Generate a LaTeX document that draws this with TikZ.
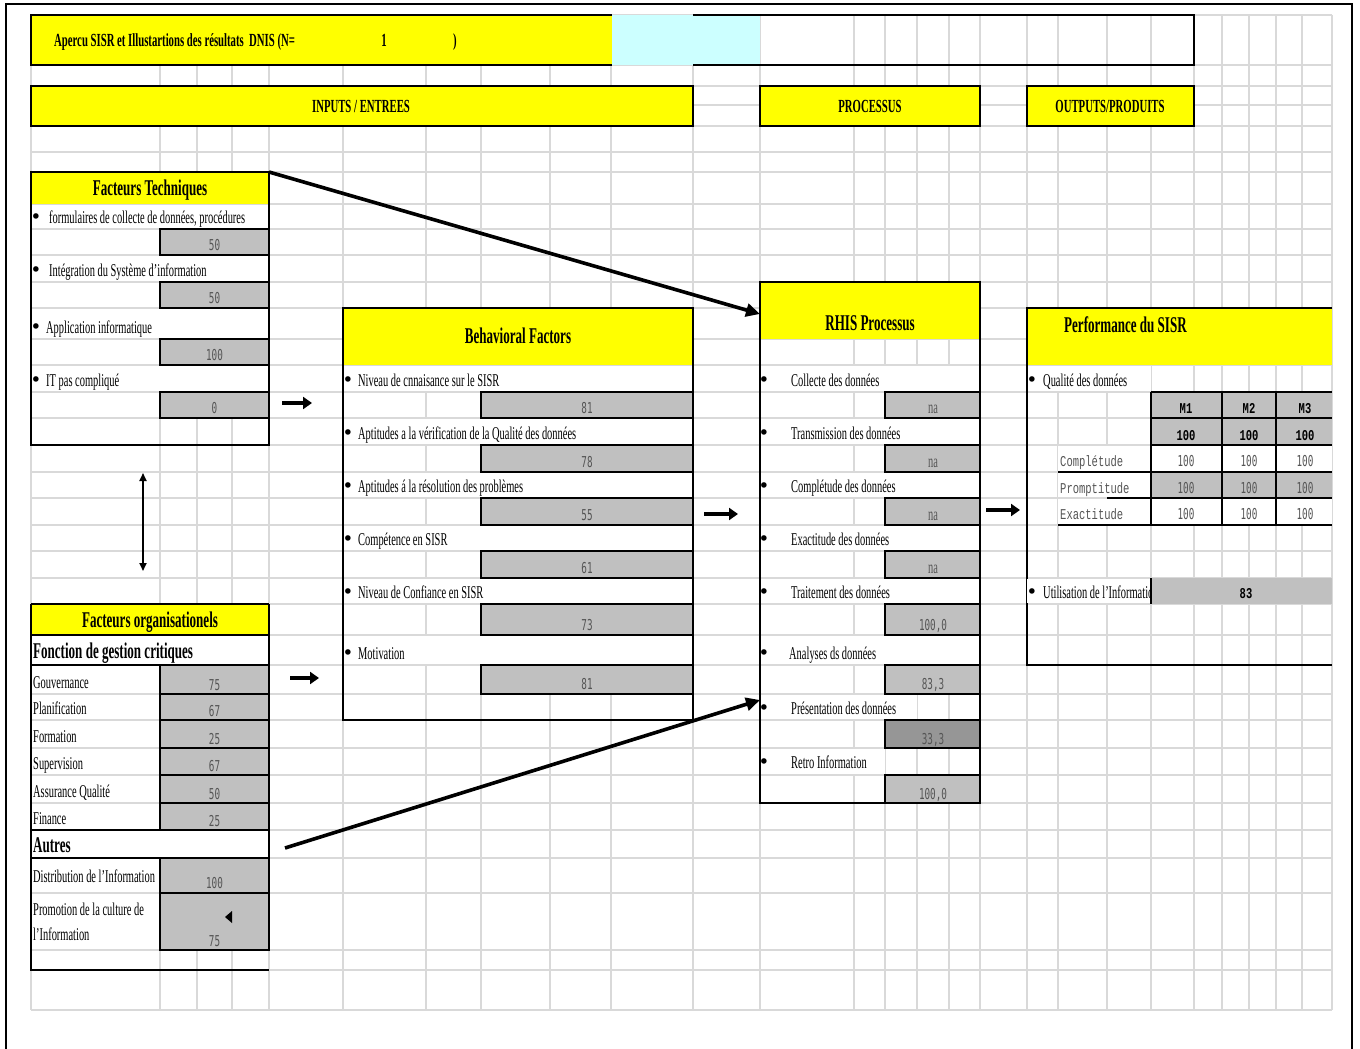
\documentclass[tikz,border=0pt]{standalone}
\usepackage{fontspec}
\setmainfont{Liberation Serif}[FakeStretch=0.58]
\newfontfamily\dmono{DejaVu Sans Mono}[FakeStretch=0.62]
\newfontfamily\lmono{Liberation Mono}[FakeStretch=0.7]
\newfontfamily\bulf{DejaVu Sans}
\usetikzlibrary{arrows.meta}
\definecolor{xyellow}{HTML}{FFFF00}
\definecolor{xcyan}{HTML}{CCFFFF}
\definecolor{xgray}{HTML}{C0C0C0}
\definecolor{xdark}{HTML}{969696}
\definecolor{gridc}{HTML}{D9D9D9}
\definecolor{numc}{HTML}{555555}
\tikzset{
  gridline/.style={draw=gridc, line width=1.3pt},
  bd/.style={draw=black, line width=2.4pt},
  thinbd/.style={draw=black, line width=1.6pt},
  cellbox/.style={draw=black, line width=2.2pt, fill=xgray},
  darkbox/.style={draw=black, line width=2.2pt, fill=xdark},
  txt/.style={font=\fontsize{18}{20}\selectfont, anchor=base west, inner sep=0pt},
  hd/.style={font=\bfseries\fontsize{22.5}{24}\selectfont, anchor=base, inner sep=0pt},
  bar/.style={font=\bfseries\fontsize{18.5}{20}\selectfont, anchor=base, inner sep=0pt},
  val/.style={font=\dmono\fontsize{15}{16}\selectfont, text=numc, anchor=base, inner sep=0pt},
  naval/.style={font=\fontsize{18}{20}\selectfont, text=numc, anchor=base, inner sep=0pt},
  cour/.style={font=\lmono\fontsize{15}{16}\selectfont, text=numc, anchor=base west, inner sep=0pt},
  courb/.style={font=\lmono\bfseries\fontsize{15}{16}\selectfont, anchor=base, inner sep=0pt},
  bul/.style={font=\bulf\fontsize{19}{20}\selectfont, anchor=base, inner sep=0pt},
  bigarrow/.style={line width=3.6pt, -{Triangle[length=14pt,width=13pt]}},
  smallarrow/.style={line width=3.4pt, -{Triangle[length=9pt,width=12pt]}},
  dblarrow/.style={line width=1.8pt, {Triangle[length=8pt,width=7pt]}-{Triangle[length=8pt,width=7pt]}},
}
\begin{document}
\begin{tikzpicture}[x=1pt,y=-1pt]
\useasboundingbox (0,0) rectangle (1360,1049);
\fill[white] (0,0) rectangle (1360,1049);
% ---------- spreadsheet grid ----------
\foreach \yy in {15,65,86,105,126,152,172,204,229,255,282,308,339,365,392,418,445,472,498,525,551,578,604,635,665,694,720,748,775,803,830,858,893,950,970,1010}
  \draw[gridline] (31,\yy) -- (1332,\yy);
\foreach \xx in {31,160,197,232,269,343,426,481,550,611,693,760,854,885,917,949,980,1027,1058,1107,1151,1194,1222,1249,1276,1302,1332}
  \draw[gridline] (\xx,15) -- (\xx,1010);
% outer frame
\draw[line width=1.2pt] (6,1060) -- (6,4) -- (1352,4) -- (1352,1060);

% ---------- title row ----------
\fill[xyellow] (31,15) rectangle (612,65);
\fill[xcyan] (612,15) rectangle (760,65);
\draw[bd] (612,15) -- (31,15) -- (31,65) -- (612,65);
\draw[bd] (693,15) -- (1194,15) -- (1194,65) -- (693,65);
\node[bar, anchor=base west] (title) at (54,47) {Apercu SISR et Illustartions des résultats\ \ DNIS (N=};
\node[bar] (titlen) at (384,47) {1};
\node[bar] (titlep) at (455,47) {)};

% ---------- section bars ----------
\draw[bd, fill=xyellow] (31,86) rectangle (693,126);
\node[bar] (inputs) at (361,112) {INPUTS / ENTREES};
\draw[bd, fill=xyellow] (760,86) rectangle (980,126);
\node[bar] (processus) at (870,112) {PROCESSUS};
\draw[bd, fill=xyellow] (1027,86) rectangle (1194,126);
\node[bar] (outputs) at (1110,112) {OUTPUTS/PRODUITS};

% ---------- Facteurs Techniques ----------
\fill[xyellow] (31,172) rectangle (269,204);
\foreach \a/\b in {204/229,255/282,308/339,365/392}
  \fill[white] (31,\a+1) rectangle (269,\b-1);
\foreach \a/\b in {229/255,282/308,339/365,392/418}
  \draw[cellbox] (160,\a) rectangle (269,\b);
\draw[bd] (31,172) rectangle (269,445);
\node[hd] (fthead) at (150,195) {Facteurs Techniques};
\node[bul] (ftb1) at (36,223) {•};
\node[txt] (ft1) at (49,223) {formulaires de collecte de données, procédures};
\node[val] (ftv1) at (214.5,250) {50};
\node[bul] (ftb2) at (36,276) {•};
\node[txt] (ft2) at (49,276) {Intégration du Système d'information};
\node[val] (ftv2) at (214.5,303) {50};
\node[bul] (ftb3) at (36,333) {•};
\node[txt] (ft3) at (46,333) {Application informatique};
\node[val] (ftv3) at (214.5,360) {100};
\node[bul] (ftb4) at (36,386) {•};
\node[txt] (ft4) at (46,386) {IT pas compliqué};
\node[val] (ftv4) at (214.5,413) {0};

% ---------- Facteurs organisationels ----------
\fill[xyellow] (31,604) rectangle (269,635);
\fill[white] (31,636) rectangle (269,664);
\fill[white] (31,831) rectangle (269,857);
\foreach \a/\b in {665/694,694/720,720/748,748/775,775/803,803/830,858/893,893/950}
  \draw[cellbox] (160,\a) rectangle (269,\b);
\draw[thinbd] (31,635) rectangle (269,665);
\draw[thinbd] (31,830) rectangle (269,858);
\draw[bd] (31,604) -- (269,604);
\draw[bd] (269,604) -- (269,950);
\draw[bd] (31,604) -- (31,970) -- (269,970);
\node[hd] (fohead) at (150,627) {Facteurs organisationels};
\node[txt, font=\bfseries\fontsize{22.5}{24}\selectfont] (fonction) at (33,658) {Fonction de gestion critiques};
\node[txt] (fo1) at (33,688) {Gouvernance};
\node[val] (fov1) at (214.5,690) {75};
\node[txt] (fo2) at (33,714) {Planification};
\node[val] (fov2) at (214.5,716) {67};
\node[txt] (fo3) at (33,742) {Formation};
\node[val] (fov3) at (214.5,744) {25};
\node[txt] (fo4) at (33,769) {Supervision};
\node[val] (fov4) at (214.5,771) {67};
\node[txt] (fo5) at (33,797) {Assurance Qualité};
\node[val] (fov5) at (214.5,799) {50};
\node[txt] (fo6) at (33,824) {Finance};
\node[val] (fov6) at (214.5,826) {25};
\node[txt, font=\bfseries\fontsize{22.5}{24}\selectfont] (autres) at (33,852) {Autres};
\node[txt] (fo7) at (33,882) {Distribution de l'Information};
\node[val] (fov7) at (214.5,888) {100};
\node[txt] (fo8a) at (33,915) {Promotion de la culture de};
\node[txt] (fo8b) at (33,940) {l'Information};
\node[val] (fov8) at (214.5,946) {75};
\fill (225,917) -- (232,911) -- (232,923) -- cycle;

% ---------- Behavioral Factors ----------
\fill[xyellow] (343,308) rectangle (693,365);
\foreach \a/\b in {365/392,418/445,472/498,525/551,578/604,635/665}
  \fill[white] (343,\a+1) rectangle (693,\b-1);
\foreach \a/\b in {392/418,445/472,498/525,551/578,604/635,665/694}
  \draw[cellbox] (481,\a) rectangle (693,\b);
\draw[bd] (343,308) rectangle (693,720);
\node[hd] (bfhead) at (518,343) {Behavioral Factors};
\node[bul] (bfb1) at (348,386) {•};
\node[txt] (bf1) at (358,386) {Niveau de cnnaisance sur le SISR};
\node[val] (bfv1) at (587,413) {81};
\node[bul] (bfb2) at (348,439) {•};
\node[txt] (bf2) at (358,439) {Aptitudes a la vérification de la Qualité des données};
\node[val] (bfv2) at (587,467) {78};
\node[bul] (bfb3) at (348,492) {•};
\node[txt] (bf3) at (358,492) {Aptitudes á la résolution des problèmes};
\node[val] (bfv3) at (587,520) {55};
\node[bul] (bfb4) at (348,545) {•};
\node[txt] (bf4) at (358,545) {Compétence en SISR};
\node[val] (bfv4) at (587,573) {61};
\node[bul] (bfb5) at (348,598) {•};
\node[txt] (bf5) at (358,598) {Niveau de Confiance en SISR};
\node[val] (bfv5) at (587,630) {73};
\node[bul] (bfb6) at (348,659) {•};
\node[txt] (bf6) at (358,659) {Motivation};
\node[val] (bfv6) at (587,689) {81};

% ---------- RHIS Processus ----------
\fill[xyellow] (760,282) rectangle (980,339);
\foreach \a/\b in {365/392,418/445,472/498,525/551,578/604,635/665}
  \fill[white] (760,\a+1) rectangle (980,\b-1);
\fill[white] (760,695) rectangle (917,719);
\fill[white] (760,749) rectangle (885,774);
\foreach \a/\b in {392/418,445/472,498/525,551/578,604/635,665/694,775/803}
  \draw[cellbox] (885,\a) rectangle (980,\b);
\draw[darkbox] (885,720) rectangle (980,748);
\draw[bd] (760,282) rectangle (980,803);
\node[hd] (rhhead) at (870,330) {RHIS Processus};
\node[bul] (rhb1) at (764,386) {•};
\node[txt] (rh1) at (791,386) {Collecte des données};
\node[naval] (rhv1) at (933,413) {na};
\node[bul] (rhb2) at (764,439) {•};
\node[txt] (rh2) at (791,439) {Transmission des données};
\node[naval] (rhv2) at (933,467) {na};
\node[bul] (rhb3) at (764,492) {•};
\node[txt] (rh3) at (791,492) {Complétude des données};
\node[naval] (rhv3) at (933,520) {na};
\node[bul] (rhb4) at (764,545) {•};
\node[txt] (rh4) at (791,545) {Exactitude des données};
\node[naval] (rhv4) at (933,573) {na};
\node[bul] (rhb5) at (764,598) {•};
\node[txt] (rh5) at (791,598) {Traitement des données};
\node[val] (rhv5) at (933,630) {100,0};
\node[bul] (rhb6) at (764,659) {•};
\node[txt] (rh6) at (789,659) {Analyses ds données};
\node[val] (rhv6) at (933,689) {83,3};
\node[bul] (rhb7) at (764,714) {•};
\node[txt] (rh7) at (791,714) {Présentation des données};
\node[val] (rhv7) at (933,744) {33,3};
\node[bul] (rhb8) at (764,768) {•};
\node[txt] (rh8) at (791,768) {Retro Information};
\node[val] (rhv8) at (933,799) {100,0};

% ---------- Performance du SISR ----------
\fill[xyellow] (1027,308) rectangle (1332,365);
\fill[white] (1027,366) rectangle (1151,391);
\fill[white] (1058,446) rectangle (1151,471);
\fill[white] (1058,473) rectangle (1151,497);
\fill[white] (1058,499) rectangle (1151,524);
\fill[white] (1151,446) rectangle (1332,471);
\fill[white] (1151,499) rectangle (1332,524);
\fill[xgray] (1151,392) rectangle (1332,445);
\fill[xgray] (1151,472) rectangle (1332,498);
\draw[bd] (1332,308) -- (1027,308) -- (1027,665) -- (1332,665);
\draw[line width=2pt] (1151,392) -- (1332,392);
\draw[line width=2pt] (1151,418) -- (1332,418);
\draw[line width=2pt] (1151,445) -- (1332,445);
\draw[line width=2pt] (1058,472) -- (1332,472);
\draw[line width=2pt] (1107,498) -- (1332,498);
\draw[line width=2pt] (1058,525) -- (1332,525);
\foreach \xx in {1151,1222,1276}
  \draw[line width=1.6pt] (\xx,392) -- (\xx,525);
\node[hd, anchor=base west] (pfhead) at (1064,332) {Performance du SISR};
\node[bul] (pfb1) at (1032,386) {•};
\node[txt] (pf1) at (1043,386) {Qualité des données};
\node[courb] (m1) at (1186,413) {M1};
\node[courb] (m2) at (1249,413) {M2};
\node[courb] (m3) at (1305,413) {M3};
\node[courb] (t1) at (1186,440) {100};
\node[courb] (t2) at (1249,440) {100};
\node[courb] (t3) at (1305,440) {100};
\node[cour] (complet) at (1060,466) {Complétude};
\node[cour] (prompt) at (1060,493) {Promptitude};
\node[cour] (exact) at (1060,519) {Exactitude};
\foreach \yy/\nm in {466/c,493/p,519/e}{
  \node[val] (\nm1) at (1186,\yy) {100};
  \node[val] (\nm2) at (1249,\yy) {100};
  \node[val] (\nm3) at (1305,\yy) {100};
}
\fill[white] (1027,579) rectangle (1151,603);
\node[bul] (pfb2) at (1032,598) {•};
\node[txt] (pf2) at (1043,598) {Utilisation de l'Information};
\fill[xgray] (1151,578) rectangle (1332,604);
\draw[line width=2pt] (1151,578) -- (1151,604);
\node[courb] (util) at (1246,598) {83};

% ---------- connectors ----------
\coordinate (ftcorner) at (269,172);
\coordinate (rhisA) at (760,314);
\coordinate (foout) at (285,848);
\coordinate (rhisB) at (760,700);
\draw[bigarrow] (ftcorner) -- (rhisA);
\draw[bigarrow] (foout) -- (rhisB);
\coordinate (a1s) at (282,403); \coordinate (a1e) at (312,403);
\coordinate (a2s) at (290,678); \coordinate (a2e) at (319,678);
\coordinate (a3s) at (704,514); \coordinate (a3e) at (738,514);
\coordinate (a4s) at (986,510); \coordinate (a4e) at (1020,510);
\draw[smallarrow] (a1s) -- (a1e);
\draw[smallarrow] (a2s) -- (a2e);
\draw[smallarrow] (a3s) -- (a3e);
\draw[smallarrow] (a4s) -- (a4e);
\coordinate (vtop) at (143,473); \coordinate (vbot) at (143,571);
\draw[dblarrow] (vtop) -- (vbot);
\end{tikzpicture}
\end{document}
